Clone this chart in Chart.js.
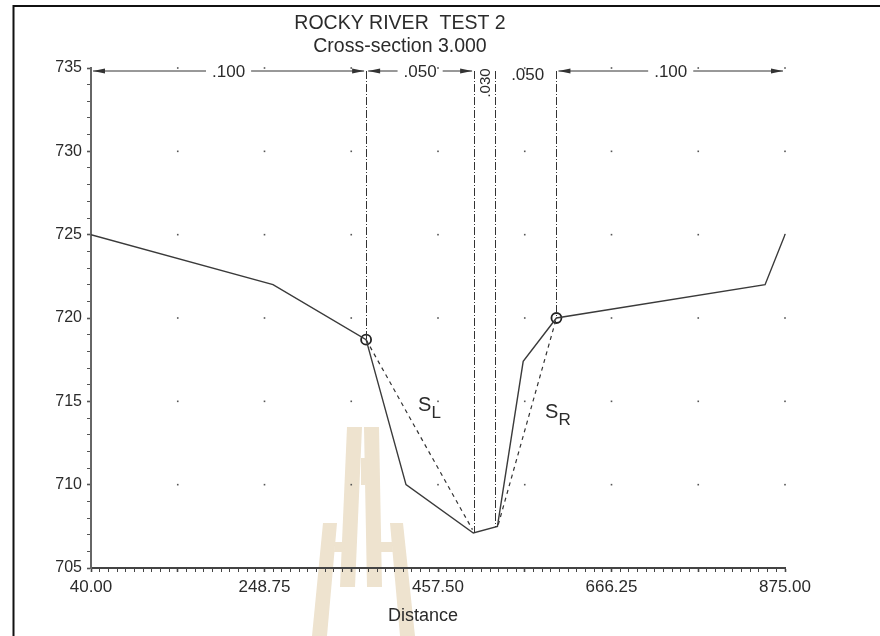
<!DOCTYPE html>
<html>
<head>
<meta charset="utf-8">
<script src="https://cdn.jsdelivr.net/npm/chart.js@4.4.1/dist/chart.umd.min.js"></script>
<style>
  html, body { margin: 0; padding: 0; background: #fff; }
  #wrap { width: 880px; height: 636px; }
  canvas { background: #fff; }
</style>
</head>
<body>
<div id="wrap"><canvas id="chart" width="880" height="636"></canvas></div>
<script>
'use strict';

// ground profile, cross-section 3.000
const stations   = [40, 259, 371, 419, 500, 529, 560, 600, 851, 875];
const elevations = [725, 722, 718.7, 710, 707.1, 707.5, 717.4, 720, 722, 725];

// bank stations (circles)
const bankStations   = [371, 600];
const bankElevations = [718.7, 720];

// side slopes S_L / S_R (dashed)
const slopeLeftX  = [371, 499];
const slopeLeftY  = [718.7, 707.3];
const slopeRightX = [530, 600];
const slopeRightY = [707.6, 720];

// Manning's n sub-sections
const nBreaks = [40, 371, 501, 526, 600, 875];
const nValues = ['.100', '.050', '.030', '.050', '.100'];

// ticks
const xTickLabels = ['40.00', '248.75', '457.50', '666.25', '875.00'];
const yTickLabels = ['705', '710', '715', '720', '725', '730', '735'];

const titleLines = ['ROCKY RIVER  TEST 2', 'Cross-section 3.000'];
const xTitle = 'Distance';

const FONT = '"Liberation Sans", Arial, sans-serif';
const INK = '#2b2b2b';

const pts = (xs, ys) => xs.map((x, i) => ({ x: x, y: ys[i] }));

function groundAt(x) {
  for (let i = 1; i < stations.length; i++) {
    if (x <= stations[i]) {
      const t = (x - stations[i - 1]) / (stations[i] - stations[i - 1]);
      return elevations[i - 1] + t * (elevations[i] - elevations[i - 1]);
    }
  }
  return elevations[elevations.length - 1];
}

function arrow(ctx, x, y, dir) {
  ctx.beginPath();
  ctx.moveTo(x, y);
  ctx.lineTo(x - dir * 12, y - 2.5);
  ctx.lineTo(x - dir * 12, y + 2.5);
  ctx.closePath();
  ctx.fill();
}

// faint logo behind the plot
const watermark = {
  id: 'watermark',
  beforeDraw(chart) {
    const ctx = chart.ctx;
    ctx.save();
    ctx.fillStyle = '#eee3cf';
    const polys = [
      [[347, 427], [362, 427], [355, 587], [340, 587]],
      [[364, 427], [379, 427], [382, 587], [367, 587]],
      [[361, 458], [365, 458], [365, 485], [361, 485]],
      [[323, 523], [337, 523], [327, 636], [312, 636]],
      [[335, 542], [345, 542], [344, 552], [334, 552]],
      [[390, 523], [403, 523], [415, 636], [400, 636]],
      [[379, 542], [392, 542], [393, 552], [379, 552]]
    ];
    polys.forEach(p => {
      ctx.beginPath();
      p.forEach((q, i) => i ? ctx.lineTo(q[0], q[1]) : ctx.moveTo(q[0], q[1]));
      ctx.closePath();
      ctx.fill();
    });
    ctx.restore();
  }
};

// dotted grid at intersections
const gridDots = {
  id: 'gridDots',
  beforeDatasetsDraw(chart) {
    const ctx = chart.ctx, xs = chart.scales.x, ys = chart.scales.y;
    ctx.save();
    ctx.fillStyle = '#555';
    for (let k = 1; k <= 8; k++) {
      for (let j = 1; j <= 6; j++) {
        const px = xs.getPixelForValue(40 + k * 104.375);
        const py = ys.getPixelForValue(705 + j * 5);
        ctx.fillRect(px - 0.8, py - 0.8, 1.6, 1.6);
      }
    }
    ctx.restore();
  }
};

const annotations = {
  id: 'annotations',
  afterDatasetsDraw(chart) {
    const ctx = chart.ctx, xs = chart.scales.x, ys = chart.scales.y;
    const top = ys.getPixelForValue(735) + 3;
    ctx.save();
    ctx.strokeStyle = '#333';
    ctx.fillStyle = '#333';
    ctx.lineWidth = 1;

    // sub-section boundaries
    ctx.setLineDash([8, 2, 1, 2]);
    for (let i = 1; i < nBreaks.length - 1; i++) {
      const px = Math.round(xs.getPixelForValue(nBreaks[i])) + 0.5;
      ctx.beginPath();
      ctx.moveTo(px, top);
      ctx.lineTo(px, ys.getPixelForValue(groundAt(nBreaks[i])));
      ctx.stroke();
    }
    ctx.setLineDash([]);

    // n values with dimension arrows
    ctx.font = '17px ' + FONT;
    ctx.textAlign = 'center';
    ctx.textBaseline = 'middle';
    for (let i = 0; i < nValues.length; i++) {
      const a = xs.getPixelForValue(nBreaks[i]);
      const b = xs.getPixelForValue(nBreaks[i + 1]);
      const w = b - a, mid = (a + b) / 2;
      const tw = ctx.measureText(nValues[i]).width;
      ctx.fillStyle = INK;
      if (w > 80) {
        ctx.fillStyle = '#333';
        ctx.beginPath();
        ctx.moveTo(a + 2, top); ctx.lineTo(mid - tw / 2 - 6, top);
        ctx.moveTo(mid + tw / 2 + 6, top); ctx.lineTo(b - 2, top);
        ctx.stroke();
        arrow(ctx, a + 2, top, -1);
        arrow(ctx, b - 2, top, 1);
        ctx.fillStyle = INK;
        ctx.fillText(nValues[i], mid, top + 1);
      } else if (w > 30) {
        ctx.fillText(nValues[i], mid + 2, top + 4);
      } else {
        ctx.save();
        ctx.translate(mid + 1, top + 12);
        ctx.rotate(-Math.PI / 2);
        ctx.font = '15px ' + FONT;
        ctx.fillText(nValues[i], 0, 0);
        ctx.restore();
      }
    }

    // slope labels
    ctx.fillStyle = INK;
    ctx.textAlign = 'left';
    ctx.textBaseline = 'alphabetic';
    const sub = (xv, yv, s) => {
      const px = xs.getPixelForValue(xv), py = ys.getPixelForValue(yv);
      ctx.font = '20px ' + FONT;
      ctx.fillText('S', px, py);
      const sw = ctx.measureText('S').width;
      ctx.font = '17px ' + FONT;
      ctx.fillText(s, px + sw, py + 7);
    };
    sub(433.5, 714.4, 'L');
    sub(586.3, 714.0, 'R');
    ctx.restore();
  },
  afterDraw(chart) {
    const ctx = chart.ctx;
    ctx.save();
    ctx.fillStyle = INK;
    ctx.textAlign = 'center';
    ctx.textBaseline = 'alphabetic';
    ctx.font = '19.5px ' + FONT;
    ctx.fillText(titleLines[0], 400, 29);
    ctx.fillText(titleLines[1], 400, 52);
    ctx.font = '18px ' + FONT;
    ctx.fillText(xTitle, 423, 621);
    // frame
    ctx.strokeStyle = '#111';
    ctx.lineWidth = 2;
    ctx.beginPath();
    ctx.moveTo(13.5, 636); ctx.lineTo(13.5, 6); ctx.lineTo(880, 6);
    ctx.stroke();
    ctx.restore();
  }
};

new Chart(document.getElementById('chart'), {
  type: 'scatter',
  data: {
    datasets: [
      {
        data: pts(stations, elevations), showLine: true,
        borderColor: '#3a3a3a', borderWidth: 1.4, pointRadius: 0, tension: 0
      },
      {
        data: pts(slopeLeftX, slopeLeftY), showLine: true,
        borderColor: '#333', borderWidth: 1.2, borderDash: [4, 4], pointRadius: 0
      },
      {
        data: pts(slopeRightX, slopeRightY), showLine: true,
        borderColor: '#333', borderWidth: 1.2, borderDash: [4, 4], pointRadius: 0
      },
      {
        data: pts(bankStations, bankElevations), showLine: false,
        pointRadius: 5, pointBorderWidth: 1.8, pointBorderColor: '#222',
        pointBackgroundColor: 'rgba(0,0,0,0)'
      }
    ]
  },
  options: {
    responsive: false,
    animation: false,
    layout: { padding: { left: 0, top: 68, right: 95, bottom: 0 } },
    plugins: { legend: { display: false }, title: { display: false }, tooltip: { enabled: false } },
    scales: {
      x: {
        type: 'linear', min: 40, max: 875,
        afterFit: s => { s.height = 68; },
        border: { display: true, color: '#444', width: 2 },
        grid: {
          drawOnChartArea: false, tickLength: 4, tickColor: '#444',
          tickWidth: c => (c.index % 10 === 0 ? 1.6 : 1)
        },
        ticks: {
          stepSize: 10.4375, autoSkip: false, maxRotation: 0, padding: 5,
          color: INK, font: { family: FONT, size: 17 },
          callback: (v, i) => (i % 20 === 0 ? xTickLabels[i / 20] : '')
        }
      },
      y: {
        type: 'linear', min: 705, max: 735,
        afterFit: s => { s.width = 91; },
        border: { display: true, color: '#666', width: 2 },
        grid: {
          drawOnChartArea: false, tickLength: 4, tickColor: '#555',
          tickWidth: c => (c.index % 5 === 0 ? 1.6 : 1)
        },
        ticks: {
          stepSize: 1, autoSkip: false, padding: 5,
          color: INK, font: { family: FONT, size: 16 },
          callback: (v, i) => (i % 5 === 0 ? yTickLabels[i / 5] : '')
        }
      }
    }
  },
  plugins: [watermark, gridDots, annotations]
});
</script>
</body>
</html>
